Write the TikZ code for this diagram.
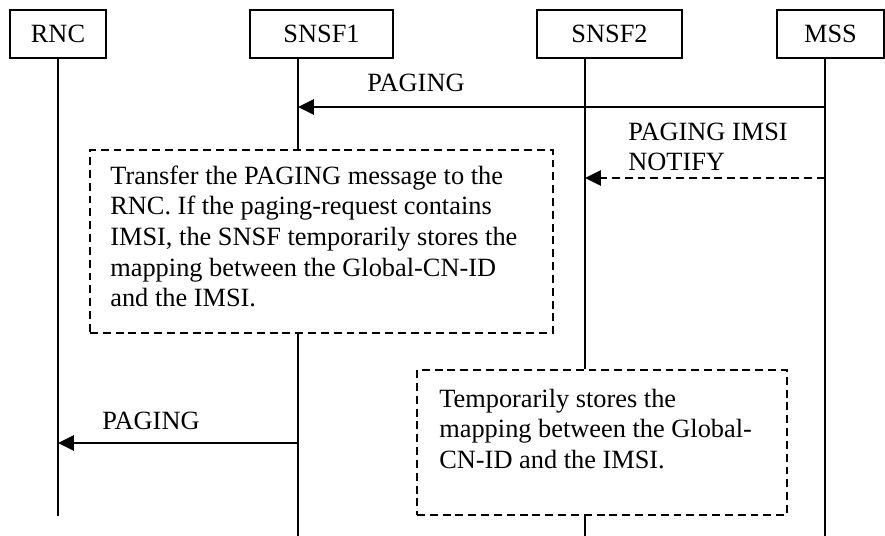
\documentclass[tikz,border=0pt]{standalone}
\usepackage{fontspec}
\setmainfont{Liberation Serif}
\usepackage{tikz}
\usetikzlibrary{calc,arrows.meta}

\tikzset{
  entity/.style={draw, line width=1pt, minimum height=0.96cm, inner sep=0pt},
  life/.style={line width=1.1pt},
  msg/.style={line width=1.5pt, -{Triangle[length=9pt,width=8.5pt]}},
  notebox/.style={draw, line width=1pt, dash pattern=on 4.5pt off 2.8pt, inner sep=0pt},
  notetext/.style={anchor=north west, align=left, inner sep=0pt}
}

\begin{document}
\begin{tikzpicture}[font=\fontsize{15}{17.4}\selectfont]

\useasboundingbox (0,0) rectangle (17.7,-10.72);

\node[entity, minimum width=1.92cm] (rnc) at (1.16,-0.68) {RNC};

\node[entity, minimum width=2.86cm] (snsf1) at (6.43,-0.68) {SNSF1};

\node[entity, minimum width=2.9cm] (snsf2) at (12.19,-0.68) {SNSF2};

\node[entity, minimum width=2.14cm] (mss) at (16.61,-0.68) {MSS};

% notes
\node[notebox, minimum width=9.26cm, minimum height=3.66cm] (note1) at (6.43,-4.83) {};

\node[notetext] (note1t) at (2.2,-3.31) {Transfer the PAGING message to the\\
RNC. If the paging-request contains\\
IMSI, the SNSF temporarily stores the\\
mapping between the Global-CN-ID\\
and the IMSI.};

\node[notebox, minimum width=7.4cm, minimum height=2.9cm] (note2) at (12.04,-8.85) {};

\node[notetext] (note2t) at (8.78,-7.77) {Temporarily stores the\\
mapping between the Global-\\
CN-ID and the IMSI.};

% lifeline ends
\coordinate (rncend) at (1.16,-10.32);
\coordinate (s1end) at (5.96,-10.72);
\coordinate (s2end) at (11.70,-10.72);
\coordinate (mssend) at (16.50,-10.72);

\draw[life] (rnc.south) -- (rncend);
\draw[life] (snsf1.south -| s1end) -- (s1end |- note1.north);
\draw[life] (s1end |- note1.south) -- (s1end);
\draw[life] (snsf2.south -| s2end) -- (s2end |- note2.north);
\draw[life] (s2end |- note2.south) -- (s2end);
\draw[life] (mss.south -| mssend) -- (mssend);

% messages
\coordinate (m1) at (0,-2.14);
\coordinate (m2) at (0,-3.56);
\coordinate (m3) at (0,-8.86);

\draw[msg] (mssend |- m1) -- (s1end |- m1);
\draw[msg, dash pattern=on 4.5pt off 2.8pt] (mssend |- m2) -- (s2end |- m2);
\draw[msg] (s1end |- m3) -- (rncend |- m3);

\node[anchor=base] (l1) at (8.32,-1.84) {PAGING};

\node[notetext] (l2) at (12.56,-2.45) {PAGING IMSI\\
NOTIFY};

\node[anchor=base] (l3) at (3.02,-8.58) {PAGING};

\end{tikzpicture}
\end{document}
